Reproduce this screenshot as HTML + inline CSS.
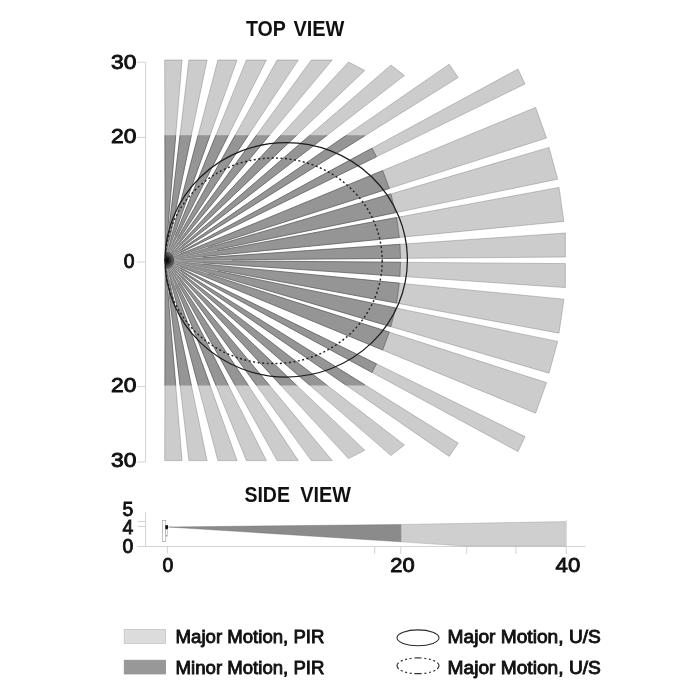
<!DOCTYPE html>
<html lang="en">
<head>
<meta charset="utf-8">
<title>Sensor coverage pattern</title>
<style>
html,body{margin:0;padding:0;background:#fff;}
body{width:700px;height:700px;overflow:hidden;}
svg{display:block;}
text{font-family:"Liberation Sans",sans-serif;fill:#111;}
.num{font-size:19.6px;stroke:#111;stroke-width:0.85px;}
.ttl{font-size:21.3px;font-weight:bold;}
.lg{font-size:17.5px;stroke:#111;stroke-width:0.85px;}
.ax{stroke:#c8c8c8;stroke-width:0.8;fill:none;}
</style>
</head>
<body>
<svg width="700" height="700" viewBox="0 0 700 700">
<defs><radialGradient id="og"><stop offset="0" stop-color="#000" stop-opacity="0.95"/><stop offset="0.4" stop-color="#000" stop-opacity="0.6"/><stop offset="1" stop-color="#000" stop-opacity="0"/></radialGradient><clipPath id="oc"><rect x="165" y="240" width="30" height="41"/></clipPath><clipPath id="dc"><rect x="0" y="135.2" width="700" height="250.4"/></clipPath></defs>
<rect width="700" height="700" fill="#fff"/>

<!-- titles -->
<text class="ttl" y="36.4"><tspan x="246" textLength="39.6" lengthAdjust="spacingAndGlyphs">TOP</tspan> <tspan x="293.4" textLength="51" lengthAdjust="spacingAndGlyphs">VIEW</tspan></text>
<text class="ttl" y="502"><tspan x="244.4" textLength="45.6" lengthAdjust="spacingAndGlyphs">SIDE</tspan> <tspan x="300.3" textLength="50.6" lengthAdjust="spacingAndGlyphs">VIEW</tspan></text>

<!-- top view axis -->
<path class="ax" d="M145.6 62.3V462M136.9 62.3H145.6M136.9 137.4H145.6M136.9 262H145.6M136.9 386.6H145.6M136.9 462H145.6"/>
<text class="num" x="111" y="69.2" textLength="25.4" lengthAdjust="spacingAndGlyphs">30</text>
<text class="num" x="111" y="142.6" textLength="25.4" lengthAdjust="spacingAndGlyphs">20</text>
<text class="num" x="123.8" y="268" textLength="10.8" lengthAdjust="spacingAndGlyphs">0</text>
<text class="num" x="111" y="392" textLength="25.4" lengthAdjust="spacingAndGlyphs">20</text>
<text class="num" x="111" y="467.4" textLength="25.4" lengthAdjust="spacingAndGlyphs">30</text>

<!-- beams -->
<g fill="#cccccc" stroke="#666" stroke-width="0.35" stroke-linejoin="miter"><polygon points="165.2,260.3 164.7,60.0 182.1,60.0"/>
<polygon points="165.2,260.3 164.7,460.6 182.1,460.6"/>
<polygon points="165.2,260.3 188.9,60.0 207.1,60.0"/>
<polygon points="165.2,260.3 188.9,460.6 207.1,460.6"/>
<polygon points="165.2,260.3 217.9,60.0 237.1,60.0"/>
<polygon points="165.2,260.3 217.9,460.6 237.1,460.6"/>
<polygon points="165.2,260.3 246.4,60.0 266.4,60.0"/>
<polygon points="165.2,260.3 246.4,460.6 266.4,460.6"/>
<polygon points="165.2,260.3 277.1,60.0 298.3,60.0"/>
<polygon points="165.2,260.3 277.1,460.6 298.3,460.6"/>
<polygon points="165.2,260.3 311.3,60.0 332.2,60.0"/>
<polygon points="165.2,260.3 311.3,460.6 332.2,460.6"/>
<polygon points="165.2,260.3 348.5,62.0 364.8,70.4"/>
<polygon points="165.2,260.3 348.5,458.6 364.8,450.2"/>
<polygon points="165.2,260.3 391.0,65.0 404.4,75.6"/>
<polygon points="165.2,260.3 391.0,455.6 404.4,445.0"/>
<polygon points="165.2,260.3 449.2,64.2 458.2,77.5"/>
<polygon points="165.2,260.3 449.2,456.4 458.2,443.1"/>
<polygon points="165.2,260.3 518.0,69.0 525.0,84.0"/>
<polygon points="165.2,260.3 518.0,451.6 525.0,436.6"/>
<polygon points="165.2,260.3 535.6,107.4 546.6,138.0"/>
<polygon points="165.2,260.3 535.6,413.2 546.6,382.6"/>
<polygon points="165.2,260.3 549.0,147.4 557.7,179.2"/>
<polygon points="165.2,260.3 549.0,373.2 557.7,341.4"/>
<polygon points="165.2,260.3 559.0,187.4 563.9,221.4"/>
<polygon points="165.2,260.3 559.0,333.2 563.9,299.2"/>
<polygon points="165.2,260.3 565.4,233.0 565.4,257.0"/>
<polygon points="165.2,260.3 565.4,287.6 565.4,263.6"/></g>
<g clip-path="url(#dc)" fill="#959595" stroke="#1a1a1a" stroke-width="0.35"><polygon points="165.2,260.3 164.6,25.0 185.0,25.8"/>
<polygon points="165.2,260.3 164.6,495.6 185.0,494.8"/>
<polygon points="165.2,260.3 192.8,26.6 213.4,30.0"/>
<polygon points="165.2,260.3 192.8,494.0 213.4,490.6"/>
<polygon points="165.2,260.3 225.1,32.7 244.7,38.8"/>
<polygon points="165.2,260.3 225.1,487.9 244.7,481.8"/>
<polygon points="165.2,260.3 253.6,42.2 271.3,50.3"/>
<polygon points="165.2,260.3 253.6,478.4 271.3,470.3"/>
<polygon points="165.2,260.3 280.0,54.9 295.4,64.3"/>
<polygon points="165.2,260.3 280.0,465.7 295.4,456.3"/>
<polygon points="165.2,260.3 303.9,70.2 315.9,79.6"/>
<polygon points="165.2,260.3 303.9,450.4 315.9,441.0"/>
<polygon points="165.2,260.3 324.9,87.5 335.7,98.1"/>
<polygon points="165.2,260.3 324.9,433.1 335.7,422.5"/>
<polygon points="165.2,260.3 343.2,106.4 351.4,116.5"/>
<polygon points="165.2,260.3 343.2,414.2 351.4,404.1"/>
<polygon points="165.2,260.3 358.8,126.6 364.8,135.8"/>
<polygon points="165.2,260.3 358.8,394.0 364.8,384.8"/>
<polygon points="165.2,260.3 372.0,148.1 376.5,156.8"/>
<polygon points="165.2,260.3 372.0,372.5 376.5,363.8"/>
<polygon points="165.2,260.3 382.7,170.5 389.3,188.5"/>
<polygon points="165.2,260.3 382.7,350.1 389.3,332.1"/>
<polygon points="165.2,260.3 390.9,193.9 395.6,212.7"/>
<polygon points="165.2,260.3 390.9,326.7 395.6,307.9"/>
<polygon points="165.2,260.3 396.6,217.5 399.4,237.5"/>
<polygon points="165.2,260.3 396.6,303.1 399.4,283.1"/>
<polygon points="165.2,260.3 400.0,244.3 400.5,258.4"/>
<polygon points="165.2,260.3 400.0,276.3 400.5,262.2"/></g>
<g stroke="#fff" stroke-width="0.55" stroke-opacity="0.75" stroke-linecap="butt"><line x1="166.1" y1="251.3" x2="168.5" y2="227.7"/><line x1="167.3" y1="251.5" x2="170.1" y2="239.3"/><line x1="168.4" y1="251.9" x2="174.9" y2="234.9"/><line x1="169.4" y1="252.4" x2="177.6" y2="237.0"/><line x1="170.3" y1="252.9" x2="179.6" y2="239.6"/><line x1="171.1" y1="253.5" x2="179.4" y2="244.1"/><line x1="171.9" y1="254.3" x2="182.4" y2="244.7"/><line x1="172.5" y1="255.0" x2="181.9" y2="248.1"/><line x1="173.0" y1="255.8" x2="180.8" y2="251.2"/><line x1="173.4" y1="256.6" x2="180.8" y2="253.2"/><line x1="173.8" y1="257.7" x2="208.6" y2="247.0"/><line x1="174.0" y1="258.6" x2="217.3" y2="250.1"/><line x1="174.2" y1="259.6" x2="202.8" y2="257.2"/><line x1="174.2" y1="260.3" x2="231.9" y2="260.3"/><line x1="174.2" y1="261.0" x2="202.8" y2="263.4"/><line x1="174.0" y1="262.0" x2="217.3" y2="270.5"/><line x1="173.8" y1="262.9" x2="208.6" y2="273.6"/><line x1="173.4" y1="264.0" x2="180.8" y2="267.4"/><line x1="173.0" y1="264.8" x2="180.8" y2="269.4"/><line x1="172.5" y1="265.6" x2="181.9" y2="272.5"/><line x1="171.9" y1="266.3" x2="182.4" y2="275.9"/><line x1="171.1" y1="267.1" x2="179.4" y2="276.5"/><line x1="170.3" y1="267.7" x2="179.6" y2="281.0"/><line x1="169.4" y1="268.2" x2="177.6" y2="283.6"/><line x1="168.4" y1="268.7" x2="174.9" y2="285.7"/><line x1="167.3" y1="269.1" x2="170.1" y2="281.3"/><line x1="166.1" y1="269.3" x2="168.5" y2="292.9"/></g>

<circle cx="165.4" cy="260.3" r="6.5" fill="url(#og)" clip-path="url(#oc)"/>

<!-- ultrasonic ellipses -->
<ellipse cx="286.2" cy="259.8" rx="121.2" ry="117.2" fill="none" stroke="#1c1c1c" stroke-width="1.25"/>
<ellipse cx="273.8" cy="260.8" rx="108.4" ry="102.8" fill="none" stroke="#222" stroke-width="1.4" stroke-dasharray="2 2.5"/>

<!-- side view -->
<path class="ax" d="M145.6 512.3V546.5M137.7 546.5H585.5M137.7 521.4H145.6M137.7 526.4H145.6M167.4 546.5V553.6M374.7 546.5V554M400.8 546.5V554M466.7 546.5V554M515.9 546.5V554M566.3 520V554"/>
<text class="num" x="122.4" y="516" textLength="10.8" lengthAdjust="spacingAndGlyphs">5</text>
<text class="num" x="122.4" y="534.2" textLength="10.8" lengthAdjust="spacingAndGlyphs">4</text>
<text class="num" x="122.4" y="552.8" textLength="10.8" lengthAdjust="spacingAndGlyphs">0</text>
<text class="num" x="162.6" y="572" textLength="10.8" lengthAdjust="spacingAndGlyphs">0</text>
<text class="num" x="390.2" y="572" textLength="24.4" lengthAdjust="spacingAndGlyphs">20</text>
<text class="num" x="555.6" y="572" textLength="24.6" lengthAdjust="spacingAndGlyphs">40</text>
<polygon points="400.8,524.5 565.3,521.6 565.3,546.2 466.5,546.2 400.8,541.8" fill="#cfcfcf" stroke="#9a9a9a" stroke-width="0.4"/>
<polygon points="168.4,527 400.8,524.5 400.8,541.8" fill="#8b8b8b" stroke="#6a6a6a" stroke-width="0.4"/>
<rect x="162.3" y="520.4" width="3.5" height="21.2" fill="#fff" stroke="#999" stroke-width="0.6"/>
<rect x="165.8" y="529" width="1.8" height="7.2" fill="#fff" stroke="#999" stroke-width="0.5"/>
<rect x="165.3" y="525.2" width="2.7" height="3.7" fill="#111"/>

<!-- legend -->
<rect x="124.2" y="629.6" width="41.4" height="13.8" fill="#dcdcdc" stroke="#bdbdbd" stroke-width="0.7"/>
<rect x="124.2" y="660.2" width="41.4" height="13.8" fill="#989898" stroke="#8c8c8c" stroke-width="0.7"/>
<text class="lg" x="175.6" y="642.6" textLength="148.8" lengthAdjust="spacingAndGlyphs">Major Motion, PIR</text>
<text class="lg" x="175.6" y="673.8" textLength="148.8" lengthAdjust="spacingAndGlyphs">Minor Motion, PIR</text>
<ellipse cx="418" cy="637.8" rx="21" ry="7.9" fill="none" stroke="#2a2a2a" stroke-width="1.05"/>
<ellipse cx="418" cy="665.8" rx="21" ry="7.9" fill="none" stroke="#333" stroke-width="1.2" pathLength="96" stroke-dasharray="7.5 2.6 2 2.6 2 2.6 2 2.7" stroke-dashoffset="3.75"/>
<text class="lg" x="447.6" y="642.6" textLength="153.2" lengthAdjust="spacingAndGlyphs">Major Motion, U/S</text>
<text class="lg" x="447.6" y="673.8" textLength="153.2" lengthAdjust="spacingAndGlyphs">Major Motion, U/S</text>
</svg>
</body>
</html>
